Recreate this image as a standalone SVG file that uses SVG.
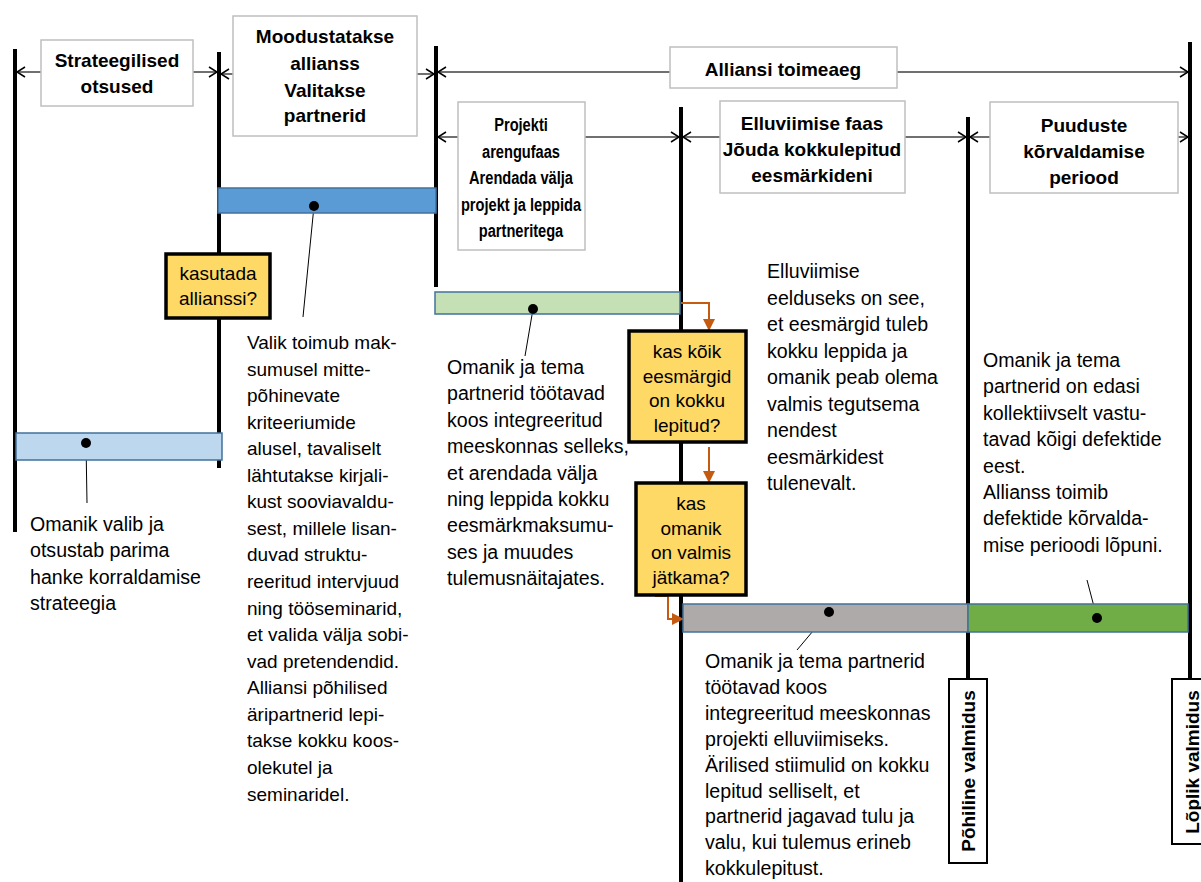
<svg xmlns="http://www.w3.org/2000/svg" width="1201" height="882" viewBox="0 0 1201 882">
<style>
.t{font-family:"Liberation Sans",Arial,sans-serif;font-size:19px;fill:#000}
.bt{font-size:19.6px}
.b{font-weight:bold}
.m{text-anchor:middle}
.vl{stroke:#000;stroke-width:4;fill:none}
.hb{fill:#fff;stroke:#bfbfbf;stroke-width:1.5}
.ar{stroke:#404040;stroke-width:1.5;fill:none;marker-end:url(#ah)}
.q{fill:#ffd966;stroke:#000;stroke-width:3.5}
.bar{stroke:#41719c;stroke-width:1.5}
.ld{stroke:#000;stroke-width:1;fill:none}
.or{stroke:#c55a11;stroke-width:2;fill:none;marker-end:url(#oa)}
.lb{fill:#fff;stroke:#000;stroke-width:2}
</style>
<defs>
<marker id="ah" markerUnits="userSpaceOnUse" markerWidth="10" markerHeight="12" refX="9" refY="6" orient="auto">
<path d="M1,1 L9,6 L1,11" fill="none" stroke="#000" stroke-width="1.5"/>
</marker>
<marker id="oa" markerUnits="userSpaceOnUse" markerWidth="12" markerHeight="12" refX="11" refY="6" orient="auto">
<path d="M0,0 L12,6 L0,12 Z" fill="#c55a11"/>
</marker>
</defs>
<rect width="1201" height="882" fill="#fff"/>

<g id="timelines">
<line class="vl" x1="15" y1="49" x2="15" y2="532"/>
<line class="vl" x1="219" y1="52" x2="219" y2="468"/>
<line class="vl" x1="436" y1="46" x2="436" y2="287"/>
<line class="vl" x1="681" y1="107" x2="681" y2="882"/>
<line class="vl" x1="968" y1="117" x2="968" y2="679"/>
<line class="vl" x1="1190" y1="42" x2="1190" y2="679"/>
</g>

<g id="connectors">
<line class="ar" x1="41" y1="72" x2="17" y2="72"/>
<line class="ar" x1="193" y1="72" x2="217" y2="72"/>
<line class="ar" x1="233" y1="74" x2="221" y2="74"/>
<line class="ar" x1="417" y1="74" x2="434" y2="74"/>
<line class="ar" x1="670" y1="72" x2="438" y2="72"/>
<line class="ar" x1="897" y1="72" x2="1188" y2="72"/>
<line class="ar" x1="458" y1="137" x2="438" y2="137"/>
<line class="ar" x1="585" y1="137" x2="679" y2="137"/>
<line class="ar" x1="720" y1="137" x2="683" y2="137"/>
<line class="ar" x1="905" y1="137" x2="966" y2="137"/>
<line class="ar" x1="990" y1="137" x2="970" y2="137"/>
<line class="ar" x1="1178" y1="137" x2="1188" y2="137"/>
<path class="or" d="M681,303 H709 V330"/>
<path class="or" d="M709,447 V482"/>
<path class="or" d="M655,596 H668 V619 H683"/>
<line class="ld" x1="314" y1="206" x2="303" y2="317"/>
<line class="ld" x1="86" y1="443" x2="87" y2="503"/>
<line class="ld" x1="533" y1="309" x2="525" y2="356"/>
<line class="ld" x1="829" y1="612" x2="797" y2="650"/>
<line class="ld" x1="1097" y1="618" x2="1087" y2="580"/>
</g>

<g id="h-strateegilised">
<rect class="hb" x="41" y="40" width="152" height="66"/>
<text class="t b m" x="117" y="67">Strateegilised</text>
<text class="t b m" x="117" y="93">otsused</text>
</g>
<g id="h-moodustatakse">
<rect class="hb" x="233" y="16" width="184" height="120"/>
<text class="t b m" x="325" y="43">Moodustatakse</text>
<text class="t b m" x="325" y="70">allianss</text>
<text class="t b m" x="325" y="97">Valitakse</text>
<text class="t b m" x="325" y="122">partnerid</text>
</g>
<g id="h-alliansi">
<rect class="hb" x="670" y="47" width="227" height="41"/>
<text class="t b m" x="783" y="76">Alliansi toimeaeg</text>
</g>
<g id="h-projekti">
<rect class="hb" x="458" y="102" width="127" height="148"/>
<g transform="translate(521,0) scale(0.77,1)">
<text class="t b m" x="0" y="131">Projekti</text>
<text class="t b m" x="0" y="158">arengufaas</text>
<text class="t b m" x="0" y="184">Arendada välja</text>
<text class="t b m" x="0" y="211">projekt ja leppida</text>
<text class="t b m" x="0" y="237">partneritega</text>
</g>
</g>
<g id="h-elluviimise">
<rect class="hb" x="720" y="101" width="185" height="92"/>
<text class="t b m" x="812" y="130">Elluviimise faas</text>
<text class="t b m" x="812" y="156">Jõuda kokkulepitud</text>
<text class="t b m" x="812" y="182">eesmärkideni</text>
</g>
<g id="h-puuduste">
<rect class="hb" x="990" y="102" width="188" height="91"/>
<text class="t b m" x="1084" y="132">Puuduste</text>
<text class="t b m" x="1084" y="158">kõrvaldamise</text>
<text class="t b m" x="1084" y="184">periood</text>
</g>

<g id="bar-blue">
<rect class="bar" x="218" y="188" width="218" height="25" fill="#5b9bd5"/>
<circle cx="314" cy="206" r="5"/>
</g>
<g id="bar-lightblue">
<rect class="bar" x="16" y="433" width="206" height="27" fill="#bdd7ee"/>
<circle cx="86" cy="443" r="5"/>
</g>
<g id="bar-lightgreen">
<rect class="bar" x="435" y="292" width="245" height="22" fill="#c5e0b4"/>
<circle cx="533" cy="309" r="5"/>
</g>
<g id="bar-gray">
<rect class="bar" x="683" y="604" width="285" height="28" fill="#aeaaaa"/>
<circle cx="829" cy="612" r="5"/>
</g>
<g id="bar-green">
<rect class="bar" x="968" y="604" width="220" height="28" fill="#70ad47"/>
<circle cx="1097" cy="618" r="5"/>
</g>

<g id="q-kasutada">
<rect class="q" x="166" y="254" width="104" height="64"/>
<text class="t m" x="218" y="280">kasutada</text>
<text class="t m" x="218" y="305">allianssi?</text>
</g>
<g id="q-eesmargid">
<rect class="q" x="629" y="331" width="117" height="111"/>
<text class="t m" x="687" y="358">kas kõik</text>
<text class="t m" x="687" y="383">eesmärgid</text>
<text class="t m" x="687" y="407">on kokku</text>
<text class="t m" x="687" y="432">lepitud?</text>
</g>
<g id="q-omanik">
<rect class="q" x="636" y="483" width="110" height="112"/>
<text class="t m" x="691" y="510">kas</text>
<text class="t m" x="691" y="535">omanik</text>
<text class="t m" x="691" y="559">on valmis</text>
<text class="t m" x="691" y="584">jätkama?</text>
</g>

<g id="txt-strateegia">
<text class="t bt" x="30" y="531"><tspan x="30">Omanik valib ja</tspan><tspan x="30" dy="26.4">otsustab parima</tspan><tspan x="30" dy="26.4">hanke korraldamise</tspan><tspan x="30" dy="26.4">strateegia</tspan></text>
</g>
<g id="txt-valik">
<text class="t" x="247" y="349"><tspan x="247">Valik toimub mak-</tspan><tspan x="247" dy="26.56">sumusel mitte-</tspan><tspan x="247" dy="26.56">põhinevate</tspan><tspan x="247" dy="26.56">kriteeriumide</tspan><tspan x="247" dy="26.56">alusel, tavaliselt</tspan><tspan x="247" dy="26.56">lähtutakse kirjali-</tspan><tspan x="247" dy="26.56">kust sooviavaldu-</tspan><tspan x="247" dy="26.56">sest, millele lisan-</tspan><tspan x="247" dy="26.56">duvad struktu-</tspan><tspan x="247" dy="26.56">reeritud intervjuud</tspan><tspan x="247" dy="26.56">ning tööseminarid,</tspan><tspan x="247" dy="26.56">et valida välja sobi-</tspan><tspan x="247" dy="26.56">vad pretendendid.</tspan><tspan x="247" dy="26.56">Alliansi põhilised</tspan><tspan x="247" dy="26.56">äripartnerid lepi-</tspan><tspan x="247" dy="26.56">takse kokku koos-</tspan><tspan x="247" dy="26.56">olekutel ja</tspan><tspan x="247" dy="26.56">seminaridel.</tspan></text>
</g>
<g id="txt-arendus">
<text class="t bt" x="447" y="374"><tspan x="447">Omanik ja tema</tspan><tspan x="447" dy="26.4">partnerid töötavad</tspan><tspan x="447" dy="26.4">koos integreeritud</tspan><tspan x="447" dy="26.4">meeskonnas selleks,</tspan><tspan x="447" dy="26.4">et arendada välja</tspan><tspan x="447" dy="26.4">ning leppida kokku</tspan><tspan x="447" dy="26.4">eesmärkmaksumu-</tspan><tspan x="447" dy="26.4">ses ja muudes</tspan><tspan x="447" dy="26.4">tulemusnäitajates.</tspan></text>
</g>
<g id="txt-eeldus">
<text class="t bt" x="767" y="278"><tspan x="767">Elluviimise</tspan><tspan x="767" dy="26.5">eelduseks on see,</tspan><tspan x="767" dy="26.5">et eesmärgid tuleb</tspan><tspan x="767" dy="26.5">kokku leppida ja</tspan><tspan x="767" dy="26.5">omanik peab olema</tspan><tspan x="767" dy="26.5">valmis tegutsema</tspan><tspan x="767" dy="26.5">nendest</tspan><tspan x="767" dy="26.5">eesmärkidest</tspan><tspan x="767" dy="26.5">tulenevalt.</tspan></text>
</g>
<g id="txt-defektid">
<text class="t bt" x="983" y="367"><tspan x="983">Omanik ja tema</tspan><tspan x="983" dy="26.4">partnerid on edasi</tspan><tspan x="983" dy="26.4">kollektiivselt vastu-</tspan><tspan x="983" dy="26.4">tavad kõigi defektide</tspan><tspan x="983" dy="26.4">eest.</tspan><tspan x="983" dy="26.4">Allianss toimib</tspan><tspan x="983" dy="26.4">defektide kõrvalda-</tspan><tspan x="983" dy="26.4">mise perioodi lõpuni.</tspan></text>
</g>
<g id="txt-elluviimine">
<text class="t bt" x="705" y="668"><tspan x="705">Omanik ja tema partnerid</tspan><tspan x="705" dy="25.9">töötavad koos</tspan><tspan x="705" dy="25.9">integreeritud meeskonnas</tspan><tspan x="705" dy="25.9">projekti elluviimiseks.</tspan><tspan x="705" dy="25.9">Ärilised stiimulid on kokku</tspan><tspan x="705" dy="25.9">lepitud selliselt, et</tspan><tspan x="705" dy="25.9">partnerid jagavad tulu ja</tspan><tspan x="705" dy="25.9">valu, kui tulemus erineb</tspan><tspan x="705" dy="25.9">kokkulepitust.</tspan></text>
</g>

<g id="m-pohiline">
<rect class="lb" x="949" y="679" width="38" height="184"/>
<text class="t b m" transform="translate(968,771) rotate(-90)" dominant-baseline="central">Põhiline valmidus</text>
</g>
<g id="m-loplik">
<rect class="lb" x="1172" y="679" width="40" height="165"/>
<text class="t b m" transform="translate(1192,762) rotate(-90)" dominant-baseline="central">Lõplik valmidus</text>
</g>
</svg>
